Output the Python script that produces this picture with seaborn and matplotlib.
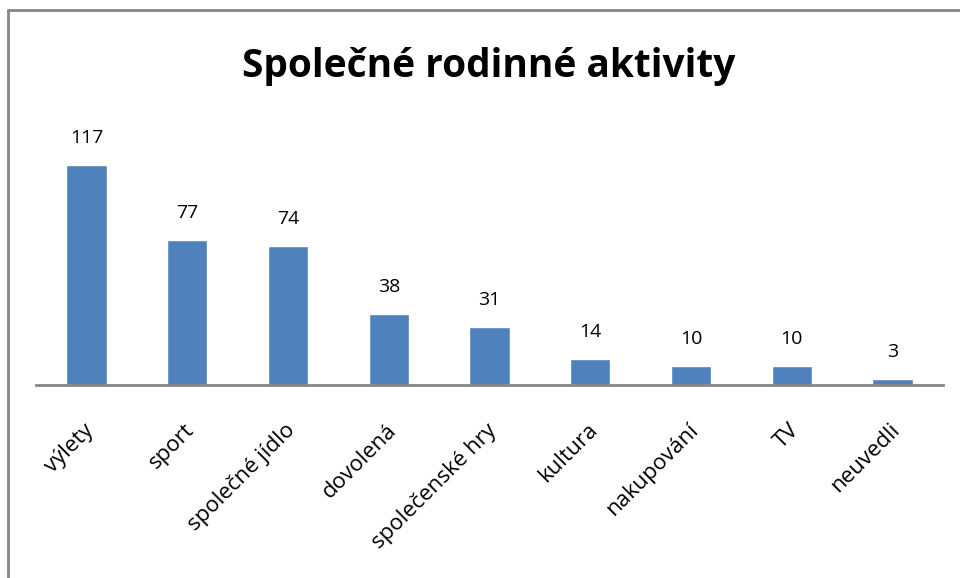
import matplotlib
matplotlib.use("Agg")
import matplotlib.pyplot as plt
import matplotlib.transforms as mtransforms
import seaborn as sns
import pandas as pd
from matplotlib.lines import Line2D

categories = ["výlety", "sport", "společné jídlo", "dovolená", "společenské hry",
              "kultura", "nakupování", "TV", "neuvedli"]
values = [117, 77, 74, 38, 31, 14, 10, 10, 3]

df = pd.DataFrame({"cat": categories, "val": values})

sns.set_theme(style="white")
plt.rcParams["font.family"] = ["Open Sans", "DejaVu Sans"]

W, H = 960, 578
fig = plt.figure(figsize=(W / 100, H / 100), dpi=100)
ax = fig.add_axes([36 / W, 1 - 385 / H, (943 - 36) / W, (385 - 122) / H])

sns.barplot(data=df, x="cat", y="val", color="#4F81BD", saturation=1, width=0.4, ax=ax)
ax.set_ylim(0, 140)
ax.set_xlim(-0.5, len(categories) - 0.5)
ax.set_xlabel("")
ax.set_ylabel("")
ax.set_yticks([])
for s in ["top", "right", "left"]:
    ax.spines[s].set_visible(False)
ax.spines["bottom"].set_color("#868686")
ax.spines["bottom"].set_linewidth(2)
ax.tick_params(axis="x", length=0, pad=25)
offset = mtransforms.ScaledTranslation(-3 / 100, 0, fig.dpi_scale_trans)
for lbl in ax.get_xticklabels():
    lbl.set_rotation(45)
    lbl.set_ha("right")
    lbl.set_rotation_mode("anchor")
    lbl.set_fontsize(16)
    lbl.set_color("black")
    lbl.set_transform(lbl.get_transform() + offset)

for c in ax.containers:
    ax.bar_label(c, labels=[str(v) for v in values], padding=13, fontsize=14, color="black")

fig.text(489 / W, 1 - 66 / H, "Společné rodinné aktivity", ha="center", va="center",
         fontsize=28, fontweight="bold", color="black")

# frame border (top and left edges visible)
fig.add_artist(Line2D([8 / W, 1.0], [1 - 10 / H, 1 - 10 / H], transform=fig.transFigure,
                      color="#868686", linewidth=2))
fig.add_artist(Line2D([8 / W, 8 / W], [0, 1 - 10 / H], transform=fig.transFigure,
                      color="#868686", linewidth=2))

fig.savefig("out.png", dpi=100)
